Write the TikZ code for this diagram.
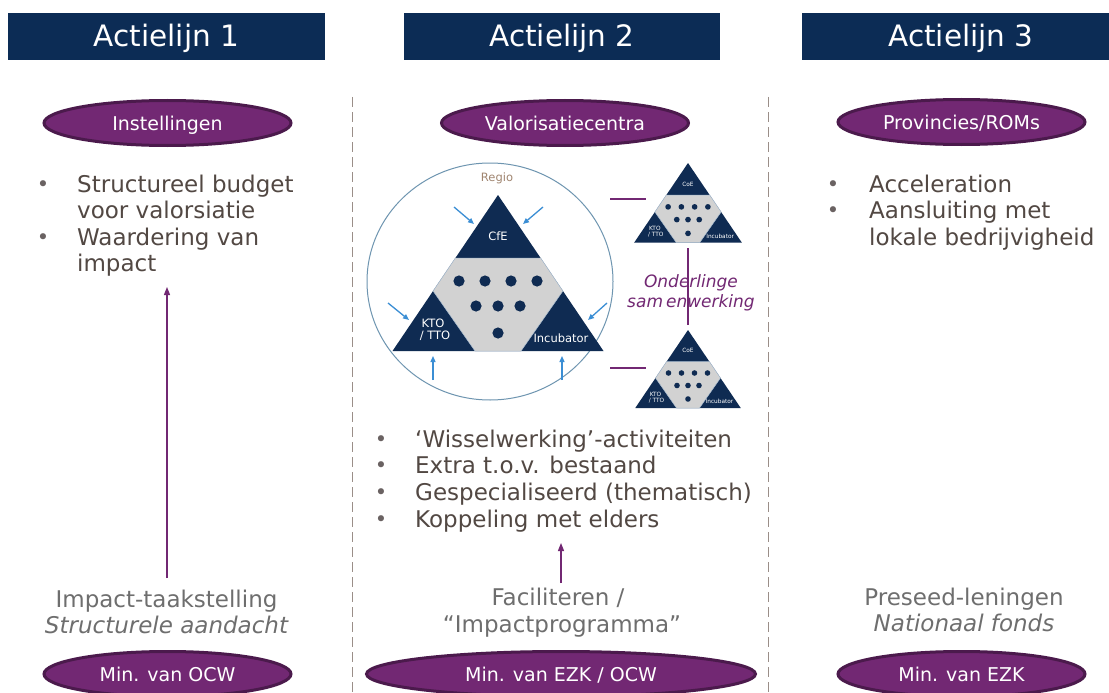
\documentclass[tikz,border=0pt]{standalone}
\usepackage{fontspec}
\setmainfont{DejaVu Sans}
\usetikzlibrary{arrows.meta,shapes.geometric}
\definecolor{navy}{HTML}{0C2C55}
\definecolor{purp}{HTML}{722873}
\definecolor{purpd}{HTML}{4B1A4C}
\definecolor{txt}{HTML}{524843}
\definecolor{gtxt}{HTML}{6E6E6E}
\definecolor{tribg}{HTML}{0F2B52}
\definecolor{trigray}{HTML}{D2D2D2}
\definecolor{triedge}{HTML}{A8BCD0}
\definecolor{arrblue}{HTML}{3B8ED4}
\definecolor{circc}{HTML}{6E95B0}
\definecolor{dashc}{HTML}{9A8E88}
\definecolor{regioc}{HTML}{A08570}
\definecolor{dotc}{HTML}{6A6262}
\newcommand{\myfs}[1]{\fontsize{#1}{#1}\selectfont}
% #1 name, #2 x, #3 y, #4 scale, #5 top label, #6 font size
\newcommand{\valtri}[6]{%
  \begin{scope}[shift={(#2,#3)}, scale=#4]
    \fill[tribg] (0,0) -- (105.5,156) -- (-105.5,156) -- cycle;
    \filldraw[fill=trigray, draw=triedge, line width=0.5pt]
      (-42.6,63) -- (42.6,63) -- (64.9,96) -- (23,156) -- (-23,156) -- (-64.9,96) -- cycle;
    \foreach \px/\py in {-39/86,-13/86,13/86,39/86,-22/111,0/111,22/111,0/138}
      \fill[tribg] (\px,\py) circle (5.6);
    \node[tritxt, font=\myfs{#6}] (#1-top) at (0,41) {#5};
    \node[tritxt, font=\myfs{#6}] (#1-kto) at (-65,128) {KTO};
    \node[tritxt, font=\myfs{#6}] (#1-tto) at (-63,141) {/ TTO};
    \node[tritxt, font=\myfs{#6}] (#1-inc) at (63,143) {Incubator};
  \end{scope}}
\begin{document}
\begin{tikzpicture}[x=1pt,y=-1pt,
  header/.style={fill=navy, text=white, font=\myfs{29.5}, minimum height=47pt, inner sep=0pt, text height=21pt, text depth=0pt},
  pill/.style={ellipse, fill=purp, draw=purpd, line width=3pt, text=white, font=\myfs{19}, minimum width=247pt, minimum height=45pt, inner sep=0pt, text height=14pt, text depth=0pt},
  btxt/.style={anchor=base west, inner sep=0pt, text=txt, font=\myfs{23}},
  bdot/.style={inner sep=0pt, text=dotc, font=\myfs{21}},
  gtx/.style={anchor=base, inner sep=0pt, text=gtxt, font=\myfs{23}},
  divider/.style={draw=dashc, line width=0.8pt, dash pattern=on 10pt off 5pt},
  parr/.style={draw=purp, line width=1.3pt, -{Triangle[length=8pt,width=6pt]}},
  pline/.style={draw=purp, line width=1.6pt},
  barr/.style={draw=arrblue, line width=1.3pt, -{Triangle[length=6pt,width=5pt]}},
  tritxt/.style={text=white, inner sep=0pt},
]
\useasboundingbox (0,0) rectangle (1109,693);
\fill[white] (0,0) rectangle (1109,693);

% headers
\node[header, minimum width=317pt] (h1) at (166.5,36.5) {Actielijn 1};
\node[header, minimum width=316pt] (h2) at (562,36.5) {Actielijn 2};
\node[header, minimum width=318pt] (h3) at (961,36.5) {Actielijn 3};

% dividers
\coordinate (d1t) at (352,97); \coordinate (d1b) at (352,693);
\coordinate (d2t) at (768,97); \coordinate (d2b) at (768,693);
\draw[divider] (d1t) -- (d1b);
\draw[divider] (d2t) -- (d2b);

% top pills
\node[pill] (p1) at (167.5,123) {Instellingen};
\node[pill] (p2) at (565,123) {Valorisatiecentra};
\node[pill] (p3) at (961.5,122) {Provincies/ROMs};

% column 1 bullets
\node[bdot] (c1d1) at (43,186) {•};
\node[btxt] (c1l1) at (77,192) {Structureel budget};
\node[btxt] (c1l2) at (77,218.5) {voor valorsiatie};
\node[bdot] (c1d2) at (43,239) {•};
\node[btxt] (c1l3) at (77,245) {Waardering van};
\node[btxt] (c1l4) at (77,271.5) {impact};

% column 3 bullets
\node[bdot] (c3d1) at (833,186) {•};
\node[btxt] (c3l1) at (869,192) {Acceleration};
\node[bdot] (c3d2) at (833,212.5) {•};
\node[btxt] (c3l2) at (869,218.5) {Aansluiting met};
\node[btxt] (c3l3) at (869,245) {lokale bedrijvigheid};

% column 2 bullets
\node[bdot] (c2d1) at (381,441) {•};
\node[btxt] (c2l1) at (415,447) {‘Wisselwerking’-activiteiten};
\node[bdot] (c2d2) at (381,467.5) {•};
\node[btxt] (c2l2) at (415,473.5) {Extra t.o.v. bestaand};
\node[bdot] (c2d3) at (381,494) {•};
\node[btxt] (c2l3) at (415,500) {Gespecialiseerd (thematisch)};
\node[bdot] (c2d4) at (381,521) {•};
\node[btxt] (c2l4) at (415,527) {Koppeling met elders};

% region circle and triangles
\draw[circc, line width=1pt] (490,281.5) ellipse [x radius=123, y radius=118.5];
\node[text=regioc, font=\myfs{11.5}, inner sep=0pt] (regio) at (497,178) {Regio};
\valtri{big}{498}{195}{1}{CfE}{11.5}
\valtri{st}{688}{163}{0.51}{CoE}{5.8}
\valtri{sb}{688}{330}{0.5}{CoE}{5.8}

% blue arrows
\coordinate (ba1) at (454,207); \coordinate (bb1) at (474,224);
\coordinate (ba2) at (543,207); \coordinate (bb2) at (523,224);
\coordinate (ba3) at (388,303); \coordinate (bb3) at (409,320);
\coordinate (ba4) at (607,303); \coordinate (bb4) at (588,320);
\coordinate (ba5) at (433,380); \coordinate (bb5) at (433,356);
\coordinate (ba6) at (562,380); \coordinate (bb6) at (562,356);
\foreach \i in {1,...,6} \draw[barr] (ba\i) -- (bb\i);

% purple links
\coordinate (l1a) at (610,199); \coordinate (l1b) at (646,199);
\coordinate (l2a) at (610,368); \coordinate (l2b) at (646,368);
\coordinate (l3a) at (688,248); \coordinate (l3b) at (688,325);
\draw[pline] (l1a) -- (l1b);
\draw[pline] (l2a) -- (l2b);
\draw[pline] (l3a) -- (l3b);
\node[anchor=base, inner sep=0pt, text=purp, font=\myfs{17}\itshape] (ond1) at (691,287) {Onderlinge};
\node[anchor=base, inner sep=0pt, text=purp, font=\myfs{17}\itshape] (ond2) at (691,307) {sam\hspace{3pt}enwerking};

% bottom texts
\node[gtx] (b1a) at (166.5,607) {Impact-taakstelling};
\node[gtx, font=\myfs{23}\itshape] (b1b) at (166.5,633) {Structurele aandacht};
\node[gtx] (b2a) at (558,605) {Faciliteren /};
\node[gtx] (b2b) at (562,632) {“Impactprogramma”};
\node[gtx] (b3a) at (964,605) {Preseed-leningen};
\node[gtx, font=\myfs{23}\itshape] (b3b) at (964,631) {Nationaal fonds};

% arrows up
\coordinate (a1s) at (167,578); \coordinate (a1e) at (167,287);
\coordinate (a2s) at (561,583); \coordinate (a2e) at (561,543);
\draw[parr] (a1s) -- (a1e);
\draw[parr] (a2s) -- (a2e);

% bottom pills
\node[pill] (m1) at (167.5,674) {Min. van OCW};
\node[pill, minimum width=389pt] (m2) at (561,674) {Min. van EZK / OCW};
\node[pill] (m3) at (961.5,674) {Min. van EZK};
\end{tikzpicture}
\end{document}
